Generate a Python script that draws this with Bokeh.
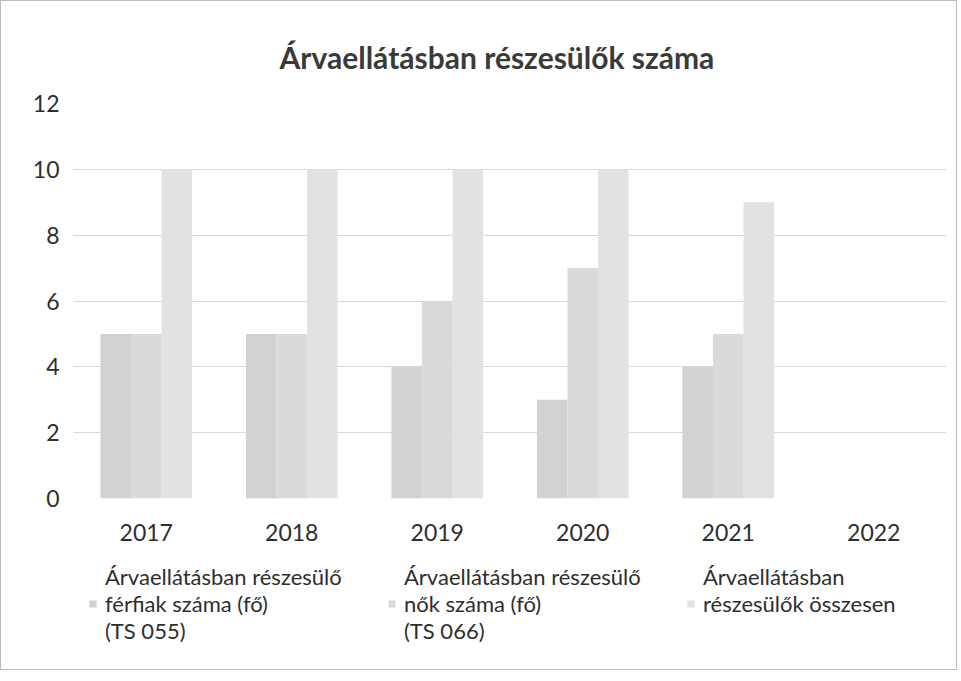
from bokeh.plotting import figure
from bokeh.layouts import column
from bokeh.models import FactorRange, Range1d, Legend, LegendItem, Title, FixedTicker, ColumnDataSource
from bokeh.transform import dodge
from bokeh.embed import file_html
from bokeh.resources import INLINE

years = ["2017", "2018", "2019", "2020", "2021", "2022"]
men = [5, 5, 4, 3, 4, 0]
women = [5, 5, 6, 7, 5, 0]
total = [10, 10, 10, 10, 9, 0]
labels = [
    "Árvaellátásban részesülő\nférfiak száma (fő)\n(TS 055)",
    "Árvaellátásban részesülő\nnők száma (fő)\n(TS 066)",
    "Árvaellátásban\nrészesülők összesen\n\u00a0",
]
y_ticks = [0, 2, 4, 6, 8, 10, 12]
title_text = "Árvaellátásban részesülők száma"

FONT = "Lato"
cols = ["#d2d2d2", "#dadada", "#e2e2e2"]

source = ColumnDataSource(data=dict(x=years, men=men, women=women, total=total))

p = figure(
    x_range=FactorRange(*years, range_padding=0),
    y_range=Range1d(0, 12),
    frame_width=873, frame_height=395,
    output_backend="svg", toolbar_location=None,
    min_border_left=72, min_border_right=10, min_border_top=102, min_border_bottom=50,
)
t = Title(text=title_text, align="left", text_font=FONT, text_font_size="30px",
          text_font_style="bold", text_color="#3a3a3a", standoff=58, offset=206)
p.add_layout(t, "above")

bw = 0.21
p.vbar(x=dodge("x", -bw, range=p.x_range), top="men", width=bw, source=source,
       fill_color=cols[0], line_color=None)
p.vbar(x=dodge("x", 0, range=p.x_range), top="women", width=bw, source=source,
       fill_color=cols[1], line_color=None)
p.vbar(x=dodge("x", bw, range=p.x_range), top="total", width=bw, source=source,
       fill_color=cols[2], line_color=None)

p.outline_line_color = None
p.xgrid.grid_line_color = None
p.ygrid.grid_line_color = "#d9d9d9"
p.ygrid.grid_line_width = 1
p.yaxis.ticker = FixedTicker(ticks=y_ticks)

for ax in (p.xaxis[0], p.yaxis[0]):
    ax.axis_line_color = None
    ax.major_tick_line_color = None
    ax.minor_tick_line_color = None
    ax.major_tick_out = 0
    ax.major_tick_in = 0
    ax.major_label_text_font = FONT
    ax.major_label_text_font_size = "23px"
    ax.major_label_text_color = "#2e2e2e"
p.yaxis.major_label_standoff = 14
p.xaxis.major_label_standoff = 25

# legend strip (separate figure so the multi-line legend sits below the axis)
lg = figure(
    x_range=Range1d(0, 1), y_range=Range1d(0, 1),
    width=955, height=121,
    output_backend="svg", toolbar_location=None,
    x_axis_location=None, y_axis_location=None,
    min_border_left=72, min_border_right=10, min_border_top=0, min_border_bottom=0,
)
lg.outline_line_color = None
lg.grid.grid_line_color = None
# off-screen placeholders that only lend their fill to the legend swatches
hidden = dict(x=[-5], top=[-5])
d1 = lg.vbar(x="x", top="top", width=0.1, source=ColumnDataSource(data=hidden), fill_color=cols[0], line_color=None)
d2 = lg.vbar(x="x", top="top", width=0.1, source=ColumnDataSource(data=hidden), fill_color=cols[1], line_color=None)
d3 = lg.vbar(x="x", top="top", width=0.1, source=ColumnDataSource(data=hidden), fill_color=cols[2], line_color=None)

legend = Legend(
    items=[LegendItem(label=labels[0], renderers=[d1]),
           LegendItem(label=labels[1], renderers=[d2]),
           LegendItem(label=labels[2], renderers=[d3])],
    orientation="horizontal", location="top_left",
    label_text_font=FONT, label_text_font_size="22px", label_text_color="#2e2e2e",
    glyph_width=9, glyph_height=9, label_standoff=8, label_width=266, spacing=16,
    border_line_color=None, background_fill_alpha=0,
    margin=15, padding=16,
)
lg.add_layout(legend, "center")

layout = column(p, lg, spacing=0)
layout.styles = {"border": "1px solid #bdbdbd"}

open("out.html", "w").write(file_html(layout, INLINE))
